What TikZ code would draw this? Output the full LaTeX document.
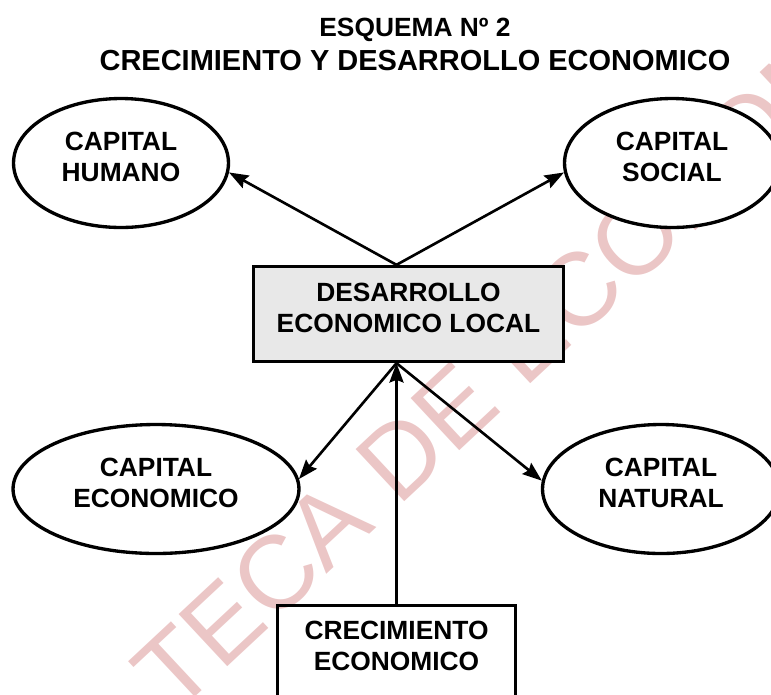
\documentclass[tikz,border=0pt]{standalone}
\usepackage{fontspec}
\setmainfont{Liberation Sans}
\usetikzlibrary{shapes.geometric, arrows.meta}
\definecolor{marca}{HTML}{EBC6C6}
\definecolor{grisbox}{HTML}{E8E8E8}
\tikzstyle{capital} = [ellipse, draw, line width=1.9pt, fill=white, minimum width=4.3cm, minimum height=2.58cm, inner sep=0pt, align=center, text depth=6.8pt, font=\fontsize{15}{17.6}\selectfont\bfseries]
\tikzstyle{caja} = [rectangle, draw, line width=1.9pt, align=center, text depth=6.8pt, font=\fontsize{15}{17.6}\selectfont\bfseries]
\tikzstyle{titulo} = [align=center, inner sep=0pt, font=\fontsize{16.5}{19.3}\selectfont\bfseries]
\tikzstyle{marcaagua} = [text=marca, font=\fontsize{59}{59}\selectfont, rotate=43, anchor=base west, inner sep=0pt]
\tikzstyle{arrow} = [line width=1.5pt,->,>={Stealth[length=11pt,width=8pt,inset=1.5pt]}]

\begin{document}
\begin{tikzpicture}[x=0.02cm, y=0.02cm]
            \useasboundingbox (0,0) rectangle (771,-694);
            \node [marcaagua] at (175,-716) (marca) {TECA DE ECONOMIA};

            \node [titulo] at (415,-44.5) (tit) {{\fontsize{15}{19.3}\selectfont ESQUEMA Nº 2}\\CRECIMIENTO Y DESARROLLO ECONOMICO};

            \node [capital] at (121,-163) (hum) {CAPITAL\\HUMANO};
            \node [capital] at (672,-163) (soc) {CAPITAL\\SOCIAL};
            \node [capital, minimum width=5.72cm] at (156,-489) (eco) {CAPITAL\\ECONOMICO};
            \node [capital, minimum width=4.74cm] at (661,-489) (nat) {CAPITAL\\NATURAL};
            \node [caja, fill=grisbox, minimum width=6.2cm, minimum height=1.9cm] at (408.5,-314) (desa) {DESARROLLO\\ECONOMICO LOCAL};
            \node [caja, anchor=north, minimum width=4.76cm, inner ysep=9pt, text depth=40pt] at (396.5,-603.5) (cre) {CRECIMIENTO\\ECONOMICO};

            \draw [arrow] (desa.north -| cre.north) -- (hum.-5);
            \draw [arrow] (desa.north -| cre.north) -- (soc.185);
            \draw [arrow] (desa.south -| cre.north) -- (eco.4);
            \draw [arrow] (desa.south -| cre.north) -- (nat.176);
            \draw [arrow] (cre.north) -- (desa.south -| cre.north);
\end{tikzpicture}
\end{document}
